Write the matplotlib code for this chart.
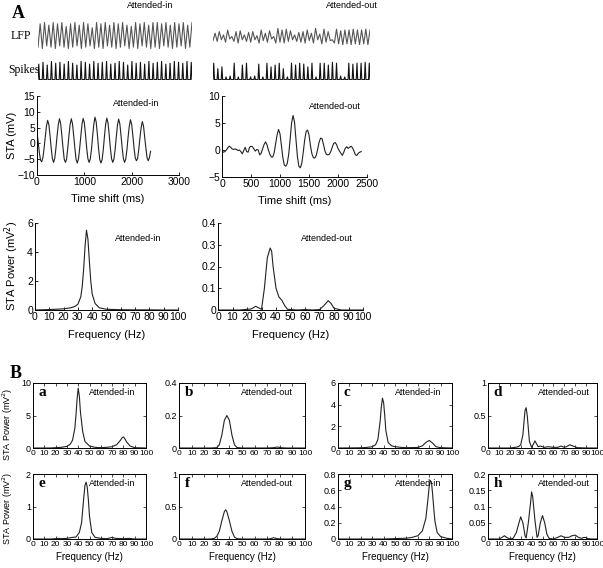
import numpy as np
import matplotlib.pyplot as plt

plt.rcParams['font.family'] = ['Liberation Sans', 'DejaVu Sans']
plt.rcParams['xtick.direction'] = 'in'
plt.rcParams['ytick.direction'] = 'in'

W, H = 603, 568

# ---- raw traces (peak / trough heights, normalised) ----
lfp_in_peaks = [0.95, 1.0, 0.9, 1.0, 0.95, 1.0, 0.85, 0.95, 1.0, 0.9, 1.0, 0.95,
                0.8, 1.0, 0.95, 1.0, 0.9, 1.0, 0.95, 1.0, 0.9, 0.85, 1.0, 0.95,
                1.0, 0.9, 1.0, 1.0, 0.95, 1.0, 0.9, 1.0, 0.95, 1.0, 0.9, 1.0]
lfp_in_troughs = [0.05, 0.0, 0.1, 0.05, 0.0, 0.1, 0.05, 0.0, 0.05, 0.1, 0.0, 0.05,
                  0.1, 0.0, 0.05, 0.0, 0.1, 0.05, 0.0, 0.05, 0.1, 0.0, 0.05, 0.0,
                  0.1, 0.05, 0.0, 0.05, 0.0, 0.1, 0.05, 0.0, 0.05, 0.1, 0.0, 0.05]
lfp_out_peaks = [0.7, 0.8, 0.6, 0.9, 0.5, 0.8, 0.85, 0.6, 0.75, 0.8, 0.55, 0.9,
                 0.7, 0.85, 0.5, 1.0, 0.9, 0.95, 0.85, 0.6, 0.75, 0.8, 0.9, 0.7,
                 1.0, 0.65, 0.95, 0.8, 0.3, 0.95, 0.85, 0.9, 0.9, 0.95, 0.9, 0.9,
                 0.95, 0.9]
lfp_out_troughs = [0.25, 0.2, 0.3, 0.15, 0.35, 0.2, 0.1, 0.3, 0.2, 0.15, 0.3, 0.1,
                   0.25, 0.15, 0.35, 0.1, 0.15, 0.1, 0.2, 0.3, 0.2, 0.15, 0.1, 0.25,
                   0.1, 0.3, 0.05, 0.15, 0.25, 0.1, 0.05, 0.0, 0.05, 0.0, 0.05, 0.0,
                   0.05, 0.0]
spk_in_heights = [0.85, 0.95, 0.8, 1.0, 0.9, 0.95, 0.85, 1.0, 0.9, 0.8, 1.0, 0.95,
                  0.85, 1.0, 0.9, 0.95, 1.0, 0.85, 0.9, 1.0, 0.95, 0.8, 1.0, 0.9,
                  0.95, 0.85, 1.0, 0.9, 0.95, 1.0, 0.85, 0.9, 1.0, 0.95, 0.9, 1.0,
                  0.95]
spk_out_heights = [0.9, 0.6, 0.7, 0.15, 0.2, 0.9, 0.15, 0.8, 0.9, 0.15, 0.2, 0.85,
                   0.15, 0.9, 0.7, 0.8, 0.9, 0.6, 0.15, 0.9, 0.8, 0.9, 0.85, 0.7,
                   0.9, 0.15, 0.9, 0.9, 0.8, 0.95, 0.9, 0.2, 0.15, 0.9, 0.85, 0.9,
                   0.9, 0.95, 0.9]

# ---- spike triggered averages (mV), sampled every 25 ms ----
sta_t = list(range(0, 2401, 25))
sta_in = [3.5, 0.5, -3, -5.3, -5.8, -4.5, -1.5, 2, 5.5, 7.3, 6, 2.5, -1.5, -4.8,
          -6, -4.8, -1.5, 2.5, 6, 7.8, 6.2, 2.5, -1.5, -5, -6, -5, -1.5, 2.5, 6,
          7.8, 6.2, 2.5, -1.5, -5, -6.2, -5, -1.8, 2.2, 6, 7.9, 6.5, 2.8, -1.5,
          -4.8, -6, -5, -2, 2.2, 6, 8.3, 6.8, 3, -1.5, -5, -6.2, -5.2, -2, 2.2,
          6, 8.0, 6.5, 2.8, -1.5, -4.8, -6, -5, -2, 2, 5.8, 7.7, 6.2, 2.5, -1.5,
          -4.8, -6, -5, -2, 2, 5.5, 7.5, 6, 2.5, -1.5, -4.5, -5.5, -4.8, -2, 1.8,
          5, 6.9, 5.5, 2, -1.5, -4.5, -5.5, -4.5, -2.5]
sta_out = [-0.2, -0.4, -0.3, 0.0, 0.4, 0.7, 0.5, 0.2, 0.1, 0.2, 0.1, -0.1, 0.0,
           -0.3, -0.7, -0.1, 0.5, -0.3, -0.4, 0.5, 0.7, 0.6, 0.2, -0.2, 0.1, 0.0,
           -0.9, -0.6, 0.2, 1.0, 1.5, 1.0, 0.0, -0.8, -1.3, -1.3, -0.5, 1.2, 2.8,
           3.8, 3.0, 0.8, -1.5, -2.8, -3.0, -2.5, -0.8, 2.0, 5.0, 6.4, 5.2, 2.0,
           -1.2, -3.0, -3.3, -2.5, -0.5, 1.8, 3.4, 3.7, 2.8, 0.8, -0.7, -1.4, -1.5,
           -1.0, 0.2, 1.5, 2.2, 2.1, 1.0, -0.2, -0.8, -0.9, -0.8, -0.3, 0.5, 1.2,
           1.4, 1.0, 0.3, -0.2, -0.6, -1.0, -0.4, 0.3, 0.6, 0.3, 0.5, 0.7, 0.4,
           -0.2, -0.9, -1.0, -0.6, -0.4, -0.3]

# ---- STA power spectra (frequency Hz, power mV^2) ----
pow_in_f = [0, 10, 20, 25, 28, 30, 32, 33, 34, 35, 36, 37, 38, 39, 40, 42, 45, 50, 60, 70, 80, 90, 100]
pow_in_p = [0, 0.03, 0.08, 0.15, 0.25, 0.4, 0.9, 1.6, 2.8, 4.4, 5.5, 4.9, 3.4, 2.0, 1.1, 0.45, 0.15, 0.05, 0.02, 0.01, 0.01, 0, 0]
pow_out_f = [0, 15, 20, 23, 26, 28, 30, 32, 34, 36, 37, 38, 40, 42, 44, 46, 48, 50, 55, 60, 65, 70, 73, 76, 78, 80, 85, 90, 100]
pow_out_p = [0, 0, 0.003, 0.005, 0.017, 0.01, 0.003, 0.1, 0.24, 0.285, 0.27, 0.2, 0.1, 0.06, 0.045, 0.02, 0.003, 0.002, 0, 0.002, 0, 0.002, 0.02, 0.043, 0.03, 0.008, 0, 0, 0]

# panel B: eight sessions
b_letters = ['a', 'b', 'c', 'd', 'e', 'f', 'g', 'h']
b_titles = ['Attended-in', 'Attended-out'] * 4
b_ylims = [10, 0.4, 6, 1, 2, 1, 0.8, 0.2]
b_yticks = [[0, 5, 10], [0, 0.2, 0.4], [0, 2, 4, 6], [0, 0.5, 1],
            [0, 1, 2], [0, 0.5, 1], [0, 0.2, 0.4, 0.6, 0.8], [0, 0.05, 0.1, 0.15, 0.2]]
b_f = [
    [0, 15, 20, 25, 30, 33, 35, 37, 38, 39, 40, 41, 42, 44, 46, 50, 55, 60, 65, 70, 74, 77, 79, 80, 81, 83, 86, 90, 100],
    [0, 25, 30, 32, 34, 36, 38, 40, 42, 44, 46, 50, 70, 75, 78, 81, 85, 100],
    [0, 20, 25, 30, 33, 35, 37, 38, 39, 40, 41, 42, 44, 47, 50, 55, 60, 70, 74, 77, 80, 83, 86, 90, 100],
    [0, 20, 25, 28, 30, 32, 33, 34, 35, 36, 37, 38, 40, 42, 43, 44, 46, 48, 50, 52, 55, 60, 64, 67, 70, 72, 75, 78, 82, 90, 100],
    [0, 15, 20, 22, 25, 30, 35, 38, 41, 43, 44, 45, 46, 47, 48, 49, 50, 52, 55, 60, 65, 68, 70, 73, 80, 85, 90, 100],
    [0, 25, 28, 30, 32, 34, 36, 37, 38, 40, 42, 44, 46, 50, 70, 73, 75, 78, 82, 100],
    [0, 40, 50, 60, 65, 70, 74, 77, 79, 80, 81, 82, 83, 84, 85, 87, 90, 95, 100],
    [0, 10, 13, 15, 17, 20, 23, 26, 28, 30, 32, 34, 35, 37, 39, 40, 41, 43, 45, 46, 48, 50, 52, 54, 56, 60,
     64, 67, 70, 74, 77, 80, 83, 86, 88, 90, 92, 95, 100],
]
b_p = [
    [0, 0, 0.05, 0.1, 0.25, 0.6, 1.2, 3, 5, 7.5, 9.2, 8, 5.5, 2.5, 1.0, 0.3, 0.1, 0.05, 0.1, 0.2, 0.5, 1.1, 1.6, 1.7, 1.5, 0.9, 0.3, 0.05, 0],
    [0, 0, 0.002, 0.02, 0.08, 0.17, 0.2, 0.17, 0.08, 0.02, 0.003, 0, 0, 0.002, 0.006, 0.002, 0, 0],
    [0, 0.02, 0.05, 0.12, 0.3, 0.8, 2.5, 3.8, 4.6, 4.2, 3.0, 1.6, 0.5, 0.2, 0.12, 0.06, 0.03, 0.05, 0.2, 0.5, 0.7, 0.45, 0.12, 0.03, 0],
    [0, 0, 0.01, 0.02, 0.05, 0.2, 0.4, 0.58, 0.62, 0.5, 0.3, 0.1, 0.01, 0.07, 0.11, 0.08, 0.02, 0.03, 0.02, 0.01, 0.02, 0.01, 0.01, 0.03, 0.01, 0.02, 0.05, 0.03, 0.005, 0, 0],
    [0, 0, 0.01, 0.02, 0.01, 0.02, 0.05, 0.06, 0.2, 0.5, 0.9, 1.3, 1.65, 1.75, 1.6, 1.2, 0.7, 0.2, 0.05, 0.02, 0.01, 0.03, 0.05, 0.02, 0.01, 0.02, 0, 0],
    [0, 0, 0.01, 0.04, 0.12, 0.28, 0.42, 0.45, 0.42, 0.28, 0.12, 0.03, 0.005, 0, 0, 0.005, 0.02, 0.005, 0, 0],
    [0, 0, 0.005, 0.01, 0.02, 0.04, 0.1, 0.25, 0.5, 0.65, 0.72, 0.7, 0.55, 0.38, 0.22, 0.08, 0.03, 0.01, 0],
    [0, 0, 0.005, 0.01, 0.005, 0, 0.002, 0.02, 0.045, 0.068, 0.05, 0.01, 0.003, 0.05, 0.11, 0.145, 0.13, 0.06, 0.005, 0.01,
     0.05, 0.072, 0.05, 0.015, 0.002, 0, 0.005, 0.01, 0.005, 0.005, 0.01, 0.012, 0.005, 0.002, 0.005, 0.004, 0.001, 0, 0],
]

line_kw = dict(color='#222222', lw=0.8)


def px_axes(fig, x0, y0, x1, y1):
    """以像素坐标 (左, 上, 右, 下) 添加坐标轴"""
    return fig.add_axes([x0 / W, 1 - y1 / H, (x1 - x0) / W, (y1 - y0) / H])


def zigzag(troughs, peaks):
    y = np.empty(2 * len(peaks))
    y[0::2] = troughs
    y[1::2] = peaks
    return np.arange(len(y)), y


def spike_train(heights):
    n = len(heights)
    x = np.repeat(np.arange(n, dtype=float), 3) + np.tile([-0.18, 0.0, 0.18], n)
    y = np.zeros(3 * n)
    y[1::3] = heights
    return x, y


fig = plt.figure(figsize=(W / 100, H / 100), dpi=100)

# ---- raw LFP and spike traces ----
for rect, (x, y), col in [
        ((38, 22, 192, 49), zigzag(lfp_in_troughs, lfp_in_peaks), '#555555'),
        ((213, 28, 370, 45), zigzag(lfp_out_troughs, lfp_out_peaks), '#555555'),
        ((38, 61, 192, 80), spike_train(spk_in_heights), '#111111'),
        ((213, 61, 370, 80), spike_train(spk_out_heights), '#111111')]:
    ax = px_axes(fig, *rect)
    ax.plot(x, y, color=col, lw=0.8)
    ax.set_ylim(-0.02, 1.02)
    ax.set_xlim(x[0], x[-1])
    ax.axis('off')

serif = ['Liberation Serif', 'DejaVu Serif']
fig.text(12 / W, 1 - 13 / H, 'A', family=serif, fontsize=13, fontweight='bold', va='center')
fig.text(10 / W, 1 - 373 / H, 'B', family=serif, fontsize=13, fontweight='bold', va='center')
fig.text(11 / W, 1 - 36 / H, 'LFP', family=serif, fontsize=8.5, va='center')
fig.text(8 / W, 1 - 70 / H, 'Spikes', family=serif, fontsize=8.5, va='center')
fig.text(150 / W, 1 - 5 / H, 'Attended-in', fontsize=6.5, ha='center', va='center')
fig.text(352 / W, 1 - 5 / H, 'Attended-out', fontsize=6.5, ha='center', va='center')


def style_open(ax):
    for s in ['top', 'right']:
        ax.spines[s].set_visible(False)
    for s in ['left', 'bottom']:
        ax.spines[s].set_linewidth(0.7)
    ax.tick_params(labelsize=7.5, length=2.5, width=0.6, pad=1.5)


# ---- STA ----
ax = px_axes(fig, 37, 96, 179, 175)
ax.plot(sta_t, sta_in, **line_kw)
ax.set_xlim(0, 3000)
ax.set_ylim(-10, 15)
ax.set_xticks([0, 1000, 2000, 3000])
ax.set_yticks([-10, -5, 0, 5, 10, 15])
style_open(ax)
ax.set_xlabel('Time shift (ms)', fontsize=8, labelpad=5)
ax.text(0.86, 0.9, 'Attended-in', transform=ax.transAxes, fontsize=6.5, ha='right', va='center')

ax = px_axes(fig, 222, 96, 367, 177)
ax.plot(sta_t, sta_out, **line_kw)
ax.set_xlim(0, 2500)
ax.set_ylim(-5, 10)
ax.set_xticks([0, 500, 1000, 1500, 2000, 2500])
ax.set_yticks([-5, 0, 5, 10])
style_open(ax)
ax.set_xlabel('Time shift (ms)', fontsize=8, labelpad=5)
ax.text(0.96, 0.87, 'Attended-out', transform=ax.transAxes, fontsize=6.5, ha='right', va='center')
fig.text(12 / W, 1 - 135 / H, 'STA (mV)', fontsize=8, rotation=90, ha='center', va='center')

# ---- STA power ----
for rect, f, p, ymax, yt, title, tx in [
        ((35, 223, 178, 310), pow_in_f, pow_in_p, 6, [0, 2, 4, 6], 'Attended-in', 0.72),
        ((218, 223, 363, 310), pow_out_f, pow_out_p, 0.4, [0, 0.1, 0.2, 0.3, 0.4], 'Attended-out', 0.75)]:
    ax = px_axes(fig, *rect)
    ax.plot(f, p, **line_kw)
    ax.set_xlim(0, 100)
    ax.set_ylim(0, ymax)
    ax.set_xticks(range(0, 101, 10))
    ax.set_yticks(yt)
    ax.set_yticklabels([f'{v:g}' for v in yt])
    style_open(ax)
    ax.set_xlabel('Frequency (Hz)', fontsize=8, labelpad=6)
    ax.text(tx, 0.82, title, transform=ax.transAxes, fontsize=6.5, ha='center', va='center')
fig.text(12 / W, 1 - 266 / H, 'STA Power (mV$^2$)', fontsize=8, rotation=90, ha='center', va='center')

# ---- panel B ----
b_rects = [(33, 383, 146, 448), (179, 383, 305, 448), (338, 383, 452, 448), (488, 383, 597, 448),
           (33, 474, 146, 539), (179, 474, 305, 539), (338, 474, 452, 539), (488, 474, 597, 539)]
for i, rect in enumerate(b_rects):
    ax = px_axes(fig, *rect)
    ax.plot(b_f[i], b_p[i], **line_kw)
    ax.set_xlim(0, 100)
    ax.set_ylim(0, b_ylims[i])
    ax.set_xticks(range(0, 101, 10))
    ax.set_yticks(b_yticks[i])
    ax.set_yticklabels([f'{v:g}' for v in b_yticks[i]])
    for s in ax.spines.values():
        s.set_linewidth(0.7)
    ax.tick_params(labelsize=6.5, length=2, width=0.5, pad=1.5, top=True, right=True)
    ax.tick_params(axis='x', labelsize=6)
    ax.text(0.05, 0.86, b_letters[i], transform=ax.transAxes, family=serif,
            fontsize=11, fontweight='bold', va='center')
    ax.text(0.7, 0.86, b_titles[i], transform=ax.transAxes, fontsize=6.5, ha='center', va='center')
    if i >= 4:
        ax.set_xlabel('Frequency (Hz)', fontsize=7, labelpad=3)
fig.text(8 / W, 1 - 424 / H, 'STA Power (mV$^2$)', fontsize=6.5, rotation=90, ha='center', va='center')
fig.text(8 / W, 1 - 508 / H, 'STA Power (mV$^2$)', fontsize=6.5, rotation=90, ha='center', va='center')

fig.savefig('out.png', dpi=100)
